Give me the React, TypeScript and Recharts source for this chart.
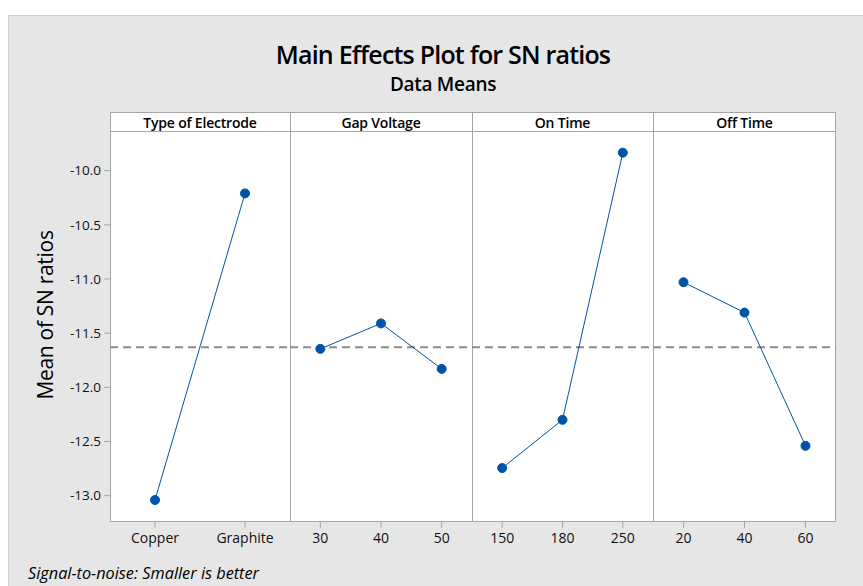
import { LineChart, Line, XAxis, YAxis, ReferenceLine } from "recharts"

const electrodeLevels = ["Copper", "Graphite"]
const electrodeMeans = [-13.04, -10.21]
const gapLevels = ["30", "40", "50"]
const gapMeans = [-11.645, -11.41, -11.83]
const onTimeLevels = ["150", "180", "250"]
const onTimeMeans = [-12.745, -12.3, -9.834]
const offTimeLevels = ["20", "40", "60"]
const offTimeMeans = [-11.03, -11.31, -12.54]
const grandMean = -11.63
const yTicks = [-13, -12.5, -12, -11.5, -11, -10.5, -10]
const panelTitles = ["Type of Electrode", "Gap Voltage", "On Time", "Off Time"]

const FONT = "'Open Sans', 'Noto Sans', sans-serif"
const BLUE = "#0053a5"
const GRID = "#a6a6a6"
const Y_DOMAIN: [number, number] = [-13.243, -9.634]

// pixel layout of the panel frame
const TOP = 112
const STRIP = 19
const BOTTOM = 522
const EDGES = [110, 290, 472, 653, 836]

function toRows(levels: string[], means: number[]) {
  return levels.map((level, i) => ({ level, mean: means[i] }))
}

const panels = [
  toRows(electrodeLevels, electrodeMeans),
  toRows(gapLevels, gapMeans),
  toRows(onTimeLevels, onTimeMeans),
  toRows(offTimeLevels, offTimeMeans),
]

const tickStyle = { fontFamily: FONT, fontSize: 13.5, fill: "#111", fontWeight: 500 }

function Panel({ idx }: { idx: number }) {
  const first = idx === 0
  const yw = first ? 66 : 0
  const left = EDGES[idx] - yw
  const width = EDGES[idx + 1] - EDGES[idx] + yw
  const plotH = BOTTOM - TOP - STRIP
  return (
    <div style={{ position: "absolute", left, top: TOP + STRIP }}>
      <LineChart
        width={width}
        height={plotH + 32}
        data={panels[idx]}
        margin={{ top: 0, right: 0, bottom: 0, left: 0 }}
      >
        <XAxis
          dataKey="level"
          type="category"
          scale="band"
          height={32}
          axisLine={false}
          tickLine={{ stroke: GRID }}
          tickSize={6}
          tickMargin={5}
          tick={{ ...tickStyle, fontSize: 14 }}
          interval={0}
        />
        <YAxis
          hide={!first}
          width={yw}
          domain={Y_DOMAIN}
          ticks={yTicks}
          allowDataOverflow
          axisLine={false}
          tickLine={{ stroke: GRID }}
          tickSize={6}
          tickMargin={3}
          tick={tickStyle}
          tickFormatter={(v: number) => v.toFixed(1)}
        />
        <ReferenceLine y={grandMean} stroke="#8c8c8c" strokeWidth={2} strokeDasharray="8 5" />
        <Line
          dataKey="mean"
          stroke={BLUE}
          strokeWidth={1}
          dot={{ r: 4.5, fill: BLUE, stroke: BLUE, strokeWidth: 1 }}
          isAnimationActive={false}
        />
      </LineChart>
    </div>
  )
}

export default function App() {
  return (
    <div style={{ position: "absolute", left: 0, top: 0, width: 863, height: 586, background: "#fff", overflow: "hidden", fontFamily: FONT }}>
      <div style={{ position: "absolute", left: 8, top: 15, width: 855, height: 571, background: "#e6e6e6", borderTop: "1px solid #cfcfcf", borderLeft: "1px solid #cfcfcf" }} />
      <div style={{ position: "absolute", left: 0, width: 886, top: 37, textAlign: "center", fontSize: 25, fontWeight: 600, color: "#000", letterSpacing: -0.8 }}>
        Main Effects Plot for SN ratios
      </div>
      <div style={{ position: "absolute", left: 0, width: 886, top: 71, textAlign: "center", fontSize: 19, fontWeight: 600, color: "#000", letterSpacing: -0.3 }}>
        Data Means
      </div>
      <div style={{ position: "absolute", left: 45, top: 315, width: 0, height: 0 }}>
        <div style={{ position: "absolute", left: -110, top: -15, width: 220, height: 30, lineHeight: "30px", textAlign: "center", transform: "rotate(-90deg)", fontSize: 21, fontWeight: 500, color: "#000", whiteSpace: "nowrap", letterSpacing: -0.3 }}>
          Mean of SN ratios
        </div>
      </div>
      {/* plot frame */}
      <div style={{ position: "absolute", left: EDGES[0], top: TOP, width: EDGES[4] - EDGES[0], height: BOTTOM - TOP, background: "#fff", boxSizing: "border-box", border: `1px solid ${GRID}` }} />
      <div style={{ position: "absolute", left: EDGES[0], top: TOP + STRIP, width: EDGES[4] - EDGES[0], height: 1, background: GRID }} />
      {EDGES.slice(1, 4).map((x) => (
        <div key={x} style={{ position: "absolute", left: x, top: TOP, width: 1, height: BOTTOM - TOP, background: GRID }} />
      ))}
      {panelTitles.map((t, i) => (
        <div key={t} style={{ position: "absolute", left: EDGES[i], width: EDGES[i + 1] - EDGES[i], top: TOP + 1, height: STRIP, lineHeight: `${STRIP}px`, textAlign: "center", fontSize: 14, fontWeight: 600, color: "#000", letterSpacing: -0.2 }}>
          {t}
        </div>
      ))}
      {panels.map((_, i) => (
        <Panel key={i} idx={i} />
      ))}
      <div style={{ position: "absolute", left: 28, top: 562, fontSize: 16.3, fontStyle: "italic", color: "#000" }}>
        Signal-to-noise: Smaller is better
      </div>
    </div>
  )
}
